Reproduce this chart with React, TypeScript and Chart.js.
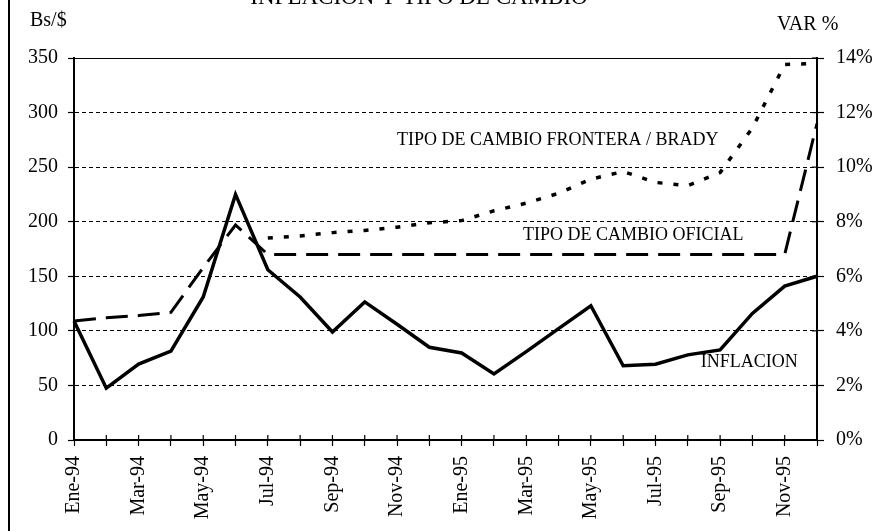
import React, { useEffect, useRef } from "react";
import { Chart, registerables } from "chart.js";

Chart.register(...registerables);

const categories = [
  "Ene-94", "Feb-94", "Mar-94", "Abr-94", "May-94", "Jun-94", "Jul-94", "Ago-94",
  "Sep-94", "Oct-94", "Nov-94", "Dic-94", "Ene-95", "Feb-95", "Mar-95", "Abr-95",
  "May-95", "Jun-95", "Jul-95", "Ago-95", "Sep-95", "Oct-95", "Nov-95", "Dic-95",
];

// Inflación mensual (%), eje derecho
const inflacion = [
  4.36, 1.9, 2.78, 3.26, 5.24, 9.0, 6.24, 5.24, 3.96, 5.06, 4.24, 3.4,
  3.19, 2.42, 3.24, 4.08, 4.92, 2.72, 2.78, 3.12, 3.3, 4.64, 5.64, 6.0,
];

// Tipo de cambio oficial (Bs/$), eje izquierdo
const tipoOficial = [
  109, 112, 114, 117, 158, 197, 170, 170, 170, 170, 170, 170,
  170, 170, 170, 170, 170, 170, 170, 170, 170, 170, 170, 290,
];

// Tipo de cambio frontera / Brady (Bs/$), eje izquierdo
const tipoFrontera = [
  null, null, null, null, null, null, 185, 187, 190, 192, 195, 199,
  201, 210, 217, 226, 239, 246, 236, 233, 245, 286, 344, 345,
];

const leftTicks = { min: 0, max: 350, step: 50 };
const rightTicks = { min: 0, max: 14, step: 2 };

const title = "INFLACION Y TIPO DE CAMBIO";
const leftAxisLabel = "Bs/$";
const rightAxisLabel = "VAR %";
const seriesLabels = [
  { text: "TIPO DE CAMBIO FRONTERA / BRADY", cat: 10.0, value: 275 },
  { text: "TIPO DE CAMBIO OFICIAL", cat: 13.9, value: 188 },
  { text: "INFLACION", cat: 19.4, value: 71.5 },
];

const FONT = "'Liberation Serif', 'Times New Roman', serif";

const decorPlugin = {
  id: "decor",
  afterDraw(chart: any) {
    const ctx = chart.ctx;
    const x = chart.scales.x;
    const y = chart.scales.y;
    const y2 = chart.scales.y2;
    const area = chart.chartArea;
    ctx.save();
    ctx.strokeStyle = "#000";
    ctx.fillStyle = "#000";
    // frame left edge
    ctx.lineWidth = 2;
    ctx.beginPath();
    ctx.moveTo(9, 0);
    ctx.lineTo(9, chart.height);
    ctx.stroke();
    // inward tick marks on x axis
    ctx.lineWidth = 1.2;
    for (let i = 0; i < categories.length; i++) {
      const px = x.getPixelForTick(i);
      ctx.beginPath();
      ctx.moveTo(px, area.bottom);
      ctx.lineTo(px, area.bottom - 5);
      ctx.stroke();
    }
    // inward tick marks on right axis
    for (let v = rightTicks.min; v <= rightTicks.max; v += rightTicks.step) {
      const py = y2.getPixelForValue(v);
      ctx.beginPath();
      ctx.moveTo(area.right - 5, py);
      ctx.lineTo(area.right, py);
      ctx.stroke();
    }
    // title (partially clipped at top)
    ctx.font = `23px ${FONT}`;
    ctx.textAlign = "center";
    ctx.textBaseline = "alphabetic";
    ctx.fillText(title, 419, 4);
    // axis unit labels
    ctx.font = `20px ${FONT}`;
    ctx.textAlign = "left";
    ctx.textBaseline = "middle";
    ctx.fillText(leftAxisLabel, 30, 21);
    ctx.fillText(rightAxisLabel, 777, 25);
    // series labels
    ctx.font = `18px ${FONT}`;
    for (const l of seriesLabels) {
      ctx.fillText(l.text, x.getPixelForValue(l.cat), y.getPixelForValue(l.value));
    }
    ctx.restore();
  },
};

export default function App() {
  const ref = useRef<HTMLCanvasElement | null>(null);
  useEffect(() => {
    if (!ref.current) return;
    Chart.defaults.font.family = FONT;
    Chart.defaults.color = "#000";
    const chart = new Chart(ref.current, {
      type: "line",
      data: {
        labels: categories,
        datasets: [
          {
            label: "INFLACION",
            data: inflacion,
            yAxisID: "y2",
            borderColor: "#000",
            borderWidth: 3.5,
            pointRadius: 0,
            tension: 0,
            borderJoinStyle: "miter",
          },
          {
            label: "TIPO DE CAMBIO OFICIAL",
            data: tipoOficial,
            yAxisID: "y",
            borderColor: "#000",
            borderWidth: 3,
            borderDash: [22, 10],
            pointRadius: 0,
            tension: 0,
          },
          {
            label: "TIPO DE CAMBIO FRONTERA / BRADY",
            data: tipoFrontera,
            yAxisID: "y",
            borderColor: "#000",
            borderWidth: 3.5,
            borderDash: [5, 11],
            pointRadius: 0,
            tension: 0,
          },
        ],
      },
      options: {
        responsive: false,
        animation: false,
        devicePixelRatio: 1,
        layout: { padding: { top: 58, left: 0, right: 0, bottom: 0 } },
        plugins: { legend: { display: false }, tooltip: { enabled: false }, title: { display: false } },
        scales: {
          x: {
            type: "category",
            offset: false,
            grid: { display: true, drawOnChartArea: false, drawTicks: true, tickLength: 6, color: "#000", tickWidth: 1.2 },
            border: { display: true, color: "#000", width: 2 },
            ticks: {
              autoSkip: false,
              maxRotation: 90,
              minRotation: 90,
              padding: 10,
              color: "#000",
              font: { size: 20, family: FONT },
              callback: (_v: any, i: number) => (i % 2 === 0 ? categories[i] : ""),
            },
            afterFit: (s: any) => { s.height = 91; },
          },
          y: {
            position: "left",
            min: leftTicks.min,
            max: leftTicks.max,
            ticks: { stepSize: leftTicks.step, padding: 10, color: "#000", font: { size: 20, family: FONT } },
            grid: { color: "#000", lineWidth: 1, tickLength: 6, tickWidth: 1.2, tickColor: "#000", tickBorderDash: [] },
            border: {
              display: true,
              color: "#000",
              width: 2,
              dash: (c: any) => (c.tick && (c.tick.value === leftTicks.max || c.tick.value === 0) ? [] : [4, 3]),
            },
            afterFit: (s: any) => { s.width = 74; },
          },
          y2: {
            position: "right",
            min: rightTicks.min,
            max: rightTicks.max,
            ticks: {
              stepSize: rightTicks.step,
              padding: 12,
              color: "#000",
              font: { size: 20, family: FONT },
              callback: (v: any) => `${v}%`,
            },
            grid: { drawOnChartArea: false, tickLength: 7, tickWidth: 1.2, tickColor: "#000" },
            border: { display: true, color: "#000", width: 2 },
            afterFit: (s: any) => { s.width = 63; },
          },
        },
      },
      plugins: [decorPlugin],
    } as any);
    return () => chart.destroy();
  }, []);
  return (
    <div style={{ position: "fixed", left: 0, top: 0, width: 880, height: 531, background: "#fff" }}>
      <canvas ref={ref} width={880} height={531} style={{ width: 880, height: 531 }} />
    </div>
  );
}
